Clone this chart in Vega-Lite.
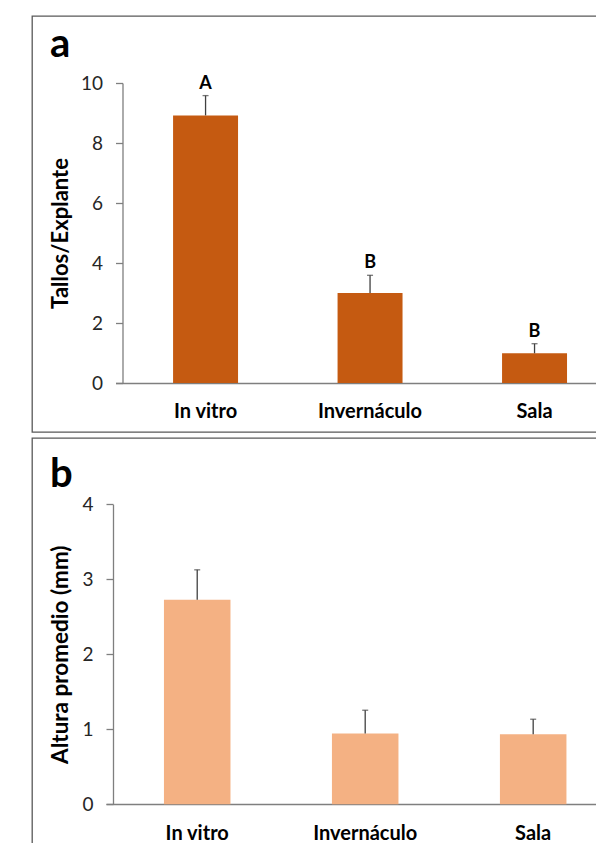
{
  "$schema": "https://vega.github.io/schema/vega-lite/v6.json",
  "padding": {"left": 31, "top": 15, "right": 0, "bottom": 0},
  "background": "white",
  "spacing": 4,
  "resolve": {"scale": {"x": "independent", "y": "independent"}},
  "config": {
    "font": "Lato",
    "view": {"stroke": "#595959", "strokeWidth": 1.3},
    "axis": {"grid": false, "domainColor": "#7f7f7f", "domainWidth": 1.3, "tickColor": "#7f7f7f", "tickWidth": 1.3, "labelFont": "Lato", "titleFont": "Lato"}
  },
  "vconcat": [
    {
      "width": 580,
      "height": 416,
      "data": {"values": [
        {"cond": "In vitro", "media": 8.92, "sup": 9.58, "letra": "A"},
        {"cond": "Invernáculo", "media": 3.0, "sup": 3.59, "letra": "B"},
        {"cond": "Sala", "media": 0.99, "sup": 1.31, "letra": "B"}
      ]},
      "resolve": {"axis": {"x": "independent"}},
      "layer": [
        {"mark": {"type": "bar", "color": "#C55A11"},
         "encoding": {
           "x": {"field": "cond", "type": "nominal", "sort": null,
             "scale": {"range": [83.5, 592.6], "paddingInner": 0.605, "paddingOuter": 0.35},
             "axis": {"title": null, "labelAngle": 0, "ticks": false, "tickSize": 0, "labelPadding": 18, "labelFontSize": 20, "labelFontWeight": "bold", "labelColor": "black", "offset": -49}},
           "y": {"field": "media", "type": "quantitative", "scale": {"domain": [0, 10], "range": [367, 67], "nice": false},
           "axis": {"title": "Tallos/Explante", "titleFontSize": 22, "titleFontWeight": "bold", "titleColor": "black", "titlePadding": 8, "values": [0, 2, 4, 6, 8, 10], "format": "d", "tickSize": 7, "labelPadding": 13, "labelFontSize": 19, "labelColor": "#262626", "offset": -90.5}}}},
        {"mark": {"type": "rule", "color": "#404040", "strokeWidth": 1.3},
         "encoding": {"x": {"field": "cond", "type": "nominal", "sort": null, "axis": null}, "y": {"field": "media", "type": "quantitative"}, "y2": {"field": "sup"}}},
        {"mark": {"type": "tick", "color": "#404040", "size": 6, "thickness": 1.3},
         "encoding": {"x": {"field": "cond", "type": "nominal", "sort": null,
           "axis": {"orient": "top", "offset": 0, "title": "a", "titleX": 17.5, "titleY": 40, "titleAngle": 0, "titleAlign": "left", "titleBaseline": "alphabetic", "titleFontSize": 40, "titleFontWeight": "bold", "titleColor": "black", "titlePadding": 0, "labels": false, "ticks": false, "domain": false, "minExtent": 0, "maxExtent": 0}},
           "y": {"field": "sup", "type": "quantitative"}}},
        {"mark": {"type": "text", "dy": -7, "baseline": "alphabetic", "fontSize": 18, "fontWeight": "bold", "color": "black", "font": "Lato"},
         "encoding": {"x": {"field": "cond", "type": "nominal", "sort": null, "axis": null}, "y": {"field": "sup", "type": "quantitative"}, "text": {"field": "letra"}}}
      ]
    },
    {
      "width": 580,
      "height": 420,
      "data": {"values": [
        {"cond": "In vitro", "media": 2.725, "sup": 3.125},
        {"cond": "Invernáculo", "media": 0.943, "sup": 1.253},
        {"cond": "Sala", "media": 0.933, "sup": 1.133}
      ]},
      "resolve": {"axis": {"x": "independent"}},
      "layer": [
        {"mark": {"type": "bar", "color": "#F4B183"},
         "encoding": {
           "x": {"field": "cond", "type": "nominal", "sort": null,
             "scale": {"range": [74, 592.4], "paddingInner": 0.604, "paddingOuter": 0.345},
             "axis": {"title": null, "labelAngle": 0, "ticks": false, "tickSize": 0, "labelPadding": 19.5, "labelFontSize": 20, "labelFontWeight": "bold", "labelColor": "black", "offset": -54}},
           "y": {"field": "media", "type": "quantitative", "scale": {"domain": [0, 4], "range": [366.2, 66.2], "nice": false},
           "axis": {"title": "Altura promedio (mm)", "titleFontSize": 22.5, "titleFontWeight": "bold", "titleColor": "black", "titlePadding": 9, "values": [0, 1, 2, 3, 4], "format": "d", "tickSize": 7, "labelPadding": 13, "labelFontSize": 19, "labelColor": "#262626", "offset": -81}}}},
        {"mark": {"type": "rule", "color": "#404040", "strokeWidth": 1.3},
         "encoding": {"x": {"field": "cond", "type": "nominal", "sort": null, "axis": null}, "y": {"field": "media", "type": "quantitative"}, "y2": {"field": "sup"}}},
        {"mark": {"type": "tick", "color": "#404040", "size": 6, "thickness": 1.3},
         "encoding": {"x": {"field": "cond", "type": "nominal", "sort": null,
           "axis": {"orient": "top", "offset": 0, "title": "b", "titleX": 17.5, "titleY": 48.5, "titleAngle": 0, "titleAlign": "left", "titleBaseline": "alphabetic", "titleFontSize": 40, "titleFontWeight": "bold", "titleColor": "black", "titlePadding": 0, "labels": false, "ticks": false, "domain": false, "minExtent": 0, "maxExtent": 0}},
           "y": {"field": "sup", "type": "quantitative"}}}
      ]
    }
  ]
}
